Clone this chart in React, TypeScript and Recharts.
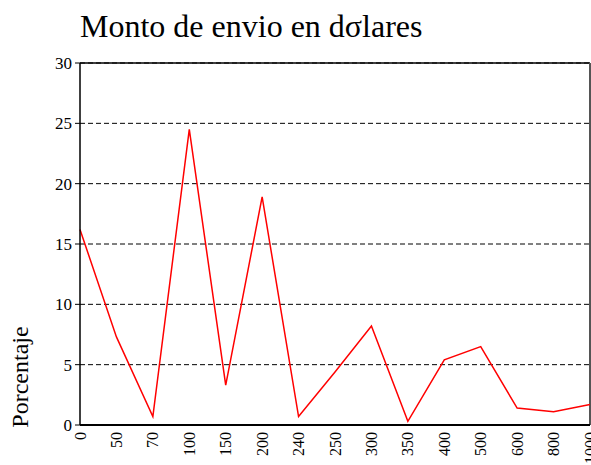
import {
  LineChart,
  Line,
  XAxis,
  YAxis,
  CartesianGrid,
  ReferenceLine,
} from "recharts";

const montos = ["0", "50", "70", "100", "150", "200", "240", "250", "300", "350", "400", "500", "600", "800", "1000"];
const porcentajes = [16.2, 7.3, 0.7, 24.5, 3.3, 18.9, 0.7, 4.4, 8.2, 0.3, 5.4, 6.5, 1.4, 1.1, 1.7];
const yTicks = [0, 5, 10, 15, 20, 25, 30];

const data = montos.map((m, i) => ({ monto: m, pct: porcentajes[i] }));

const FONT = "'Liberation Serif', 'Times New Roman', serif";

// rotated category labels, reading bottom to top
const XTick = ({ x, y, payload }: any) => (
  <g transform={`translate(${x},${y})`}>
    <text
      transform="rotate(-90)"
      textAnchor="end"
      dy="0.35em"
      style={{ fontFamily: FONT, fontSize: 16 }}
      fill="#000"
    >
      {payload.value}
    </text>
  </g>
);

const YLabel = ({ viewBox }: any) => {
  const cx = viewBox.x + 28;
  const cy = viewBox.y + viewBox.height - 48;
  return (
    <text
      x={cx}
      y={cy}
      transform={`rotate(-90 ${cx} ${cy})`}
      textAnchor="middle"
      style={{ fontFamily: FONT, fontSize: 24 }}
      fill="#000"
    >
      Porcentaje
    </text>
  );
};

const App = () => {
  return (
    <div
      style={{
        position: "absolute",
        left: 0,
        top: 0,
        width: 591,
        height: 465,
        background: "#fff",
        fontFamily: FONT,
      }}
    >
      <div
        style={{
          position: "absolute",
          left: 80,
          top: 10,
          fontFamily: FONT,
          fontSize: 32,
          lineHeight: "32px",
          color: "#000",
          whiteSpace: "nowrap",
        }}
      >
        Monto de envio en dσlares
      </div>
      <LineChart
        width={591}
        height={465}
        data={data}
        margin={{ top: 63, right: 1, left: 0, bottom: 0 }}
        style={{ fontFamily: FONT }}
      >
        <CartesianGrid vertical={false} stroke="#000" strokeDasharray="5 3" />
        <XAxis
          dataKey="monto"
          height={40}
          interval={0}
          axisLine={{ stroke: "#000", strokeWidth: 2 }}
          tickLine={false}
          tickSize={5}
          tickMargin={2}
          tick={<XTick />}
        />
        <YAxis
          width={80}
          domain={[0, 30]}
          ticks={yTicks}
          interval={0}
          axisLine={{ stroke: "#000", strokeWidth: 1.5 }}
          tickLine={{ stroke: "#000" }}
          tickSize={5}
          tickMargin={3}
          tick={{ fontSize: 17, fill: "#000", style: { fontFamily: FONT } }}
          label={<YLabel />}
        />
        <ReferenceLine y={30} stroke="#000" strokeWidth={1.5} />
        <ReferenceLine x="1000" stroke="#555" strokeWidth={2} />
        <Line
          type="linear"
          dataKey="pct"
          stroke="#ff0000"
          strokeWidth={1.5}
          dot={false}
          activeDot={false}
          isAnimationActive={false}
        />
      </LineChart>
    </div>
  );
};

export default App;
